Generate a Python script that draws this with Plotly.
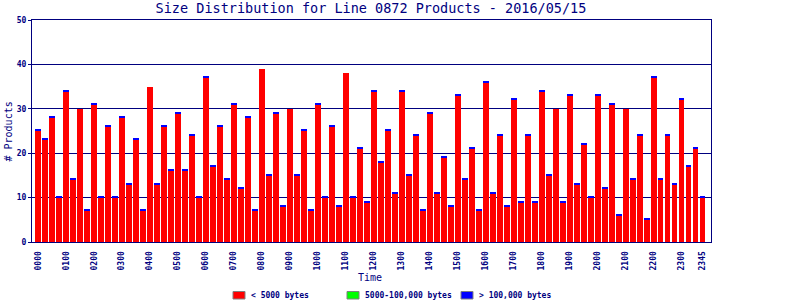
import plotly.graph_objects as go

times = [f"{h:02d}{m:02d}" for h in range(24) for m in (0, 15, 30, 45)]

small_vals = [25, 23, 28, 10, 34, 14, 30, 7,
              31, 10, 26, 10, 28, 13, 23, 7,
              35, 13, 26, 16, 29, 16, 24, 10,
              37, 17, 26, 14, 31, 12, 28, 7,
              39, 15, 29, 8, 30, 15, 25, 7,
              31, 10, 26, 8, 38, 10, 21, 9,
              34, 18, 25, 11, 34, 15, 24, 7,
              29, 11, 19, 8, 33, 14, 21, 7,
              36, 11, 24, 8, 32, 9, 24, 9,
              34, 15, 30, 9, 33, 13, 22, 10,
              33, 12, 31, 6, 30, 14, 24, 5,
              37, 14, 24, 13, 32, 17, 21, 10]
mid_vals = [0] * 96
# tiny share of large products on top of each bar (1px cap)
large_vals = [0 if v in (30, 35, 38, 39) else 0.3 for v in small_vals]

tick_vals = [t for t in times if t.endswith("00")] + ["2345"]

series_names = ["< 5000 bytes", "5000-100,000 bytes", "> 100,000 bytes"]
series_colors = ["#ff0000", "#00ff00", "#0000ff"]

NAVY = "#00007f"
FONT = "DejaVu Sans Mono"

# plot area in pixels (for placing legend/labels outside the plot)
L, R, T, B = 32, 711, 20, 242
def px(x):
    return (x - L) / (R - L)
def py(y):
    return (B - y) / (B - T)

fig = go.Figure()
for vals, name, col in zip([small_vals, mid_vals, large_vals], series_names, series_colors):
    fig.add_bar(x=times, y=vals, name=name, showlegend=False,
                marker=dict(color=col, line=dict(width=0)))

# manual legend matching the original layout
legend_sq_x = [233, 347, 461]
shapes = []
annotations = []
for x0, name, col in zip(legend_sq_x, series_names, series_colors):
    shapes.append(dict(type="rect", xref="paper", yref="paper",
                       x0=px(x0), x1=px(x0 + 12), y0=py(299), y1=py(291.5),
                       fillcolor=col, line=dict(color="#808080", width=1)))
    annotations.append(dict(text=name, xref="paper", yref="paper",
                            x=px(x0 + 16), y=py(295.5), xanchor="left", yanchor="middle",
                            showarrow=False,
                            font=dict(family=FONT, size=8, color=NAVY, weight="bold")))

annotations += [
    dict(text="Time", xref="paper", yref="paper", x=px(370), y=py(277.5),
         xanchor="center", yanchor="middle", showarrow=False,
         font=dict(family=FONT, size=10, color=NAVY)),
    dict(text="# Products", xref="paper", yref="paper", x=px(7.5), y=py(132),
         xanchor="center", yanchor="middle", textangle=-90, showarrow=False,
         font=dict(family=FONT, size=10, color=NAVY)),
]

fig.update_layout(
    width=800, height=300,
    margin=dict(l=L, r=800 - R, t=T, b=300 - B, autoexpand=False),
    paper_bgcolor="white", plot_bgcolor="white",
    barmode="stack", bargap=0.18, showlegend=False,
    font=dict(family=FONT, color=NAVY, size=9),
    title=dict(text="Size Distribution for Line 0872 Products - 2016/05/15",
               x=371/800, xanchor="center", y=(300 - 8) / 300, yanchor="middle",
               font=dict(family=FONT, size=13.5, color=NAVY)),
    xaxis=dict(type="category", categoryorder="array", categoryarray=times,
               range=[-0.85, 96.2], automargin=False,
               tickmode="array", tickvals=tick_vals, ticktext=tick_vals,
               tickangle=-90, ticks="outside", ticklen=5, tickcolor="rgba(0,0,0,0)",
               showgrid=False,
               showline=True, linecolor=NAVY, linewidth=1, mirror=True,
               tickfont=dict(family=FONT, size=8, color=NAVY, weight="bold")),
    yaxis=dict(range=[0, 50], tickvals=[0, 10, 20, 30, 40, 50], automargin=False,
               showgrid=True, gridcolor=NAVY, gridwidth=1,
               ticks="outside", ticklen=3, tickcolor=NAVY,
               showline=True, linecolor=NAVY, linewidth=1, mirror=True,
               zeroline=False,
               tickfont=dict(family=FONT, size=8, color=NAVY, weight="bold")),
    shapes=shapes,
    annotations=annotations,
)

fig.write_html("out.html", config={"displayModeBar": False},
               post_script="document.body.style.margin='0';")
